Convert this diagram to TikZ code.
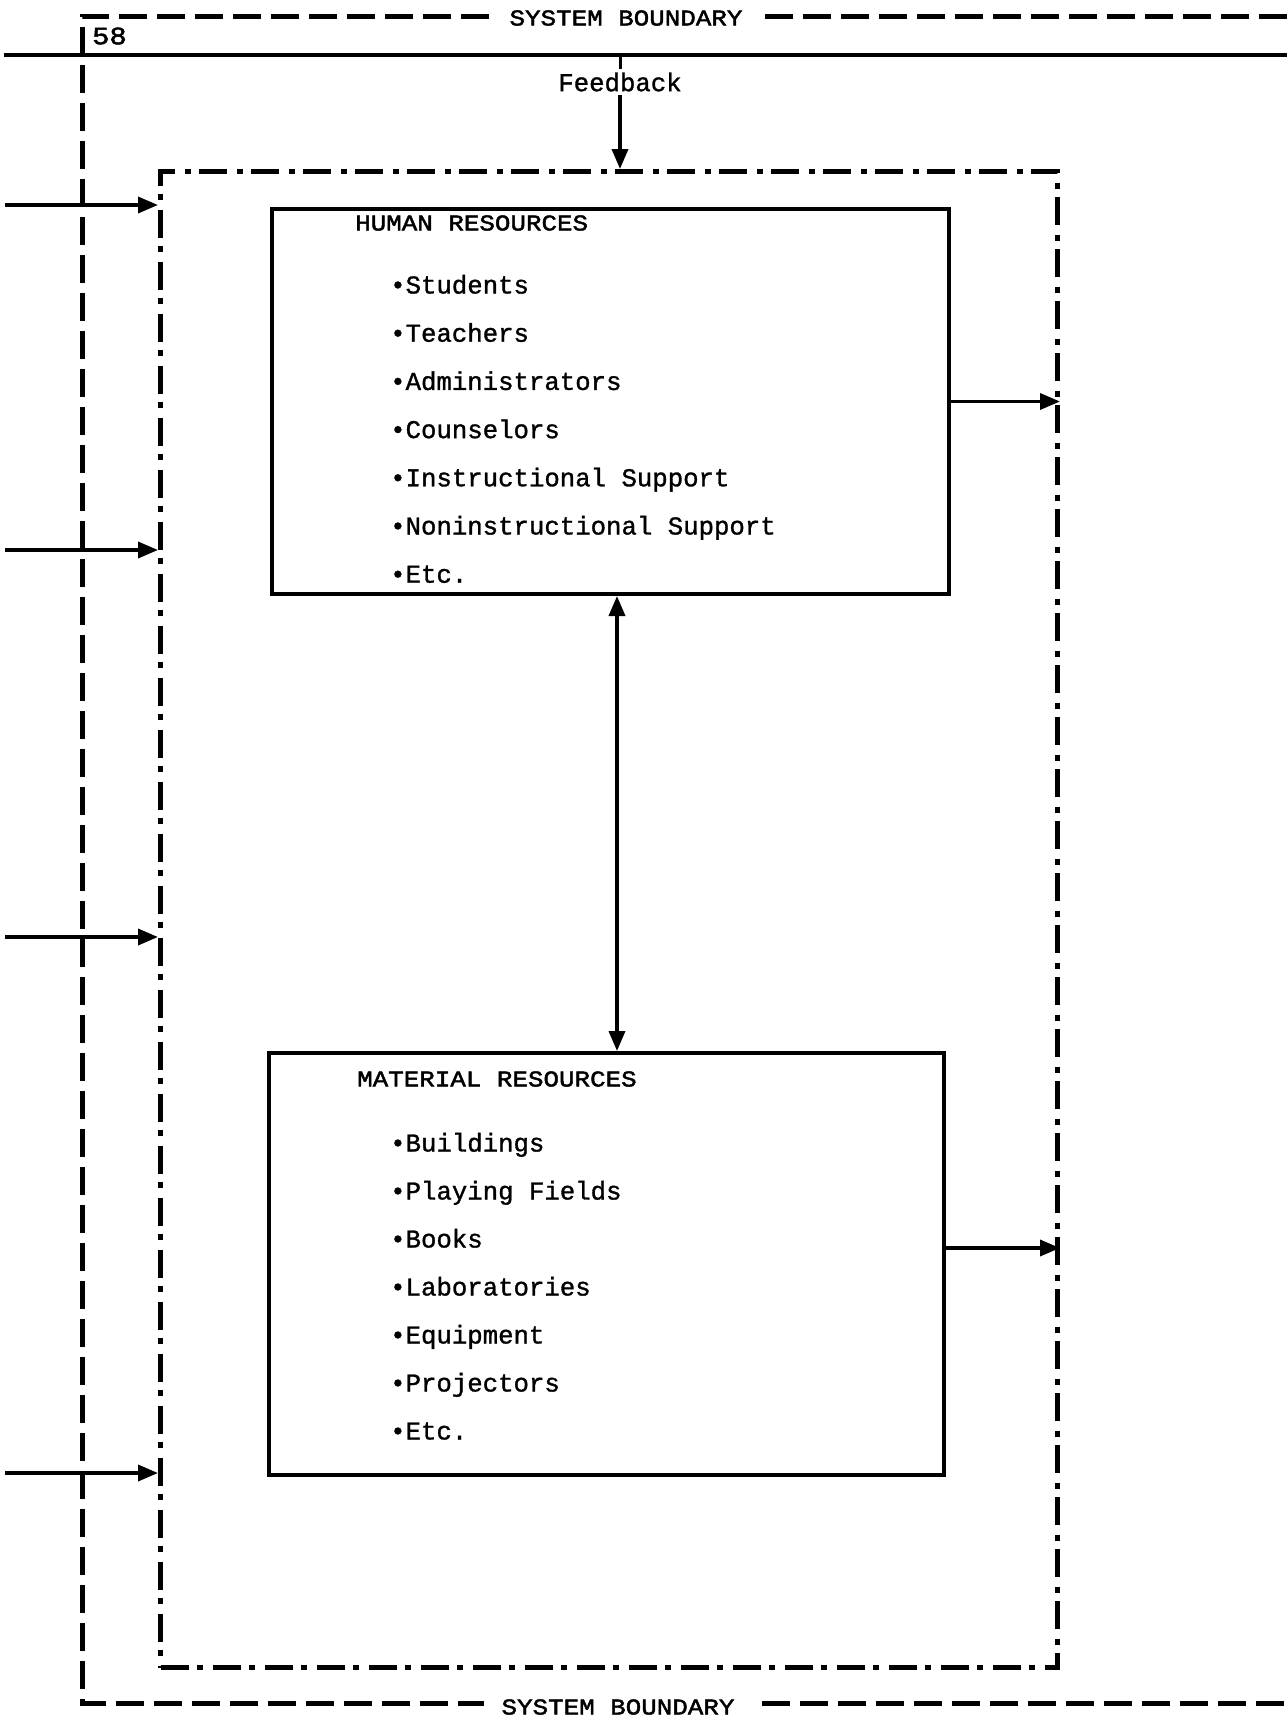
\documentclass[tikz,border=0pt]{standalone}
\usepackage{fontspec}
\setmainfont{Liberation Mono}[FakeBold=1.2]
\newfontfamily\headfont[FakeStretch=1.15, FakeBold=2]{Liberation Mono}
\usetikzlibrary{arrows.meta,positioning}

\begin{document}
\begin{tikzpicture}[x=1pt,y=-1pt,
    bound/.style={line width=5pt, dash pattern=on 28pt off 10pt},
    sysbox/.style={draw, line width=5pt, dash pattern=on 28pt off 8pt on 6pt off 10pt,
        anchor=north west, inner sep=0pt},
    resbox/.style={draw, line width=4pt, anchor=north west, inner sep=0pt},
    head/.style={font=\headfont\fontsize{22.5}{24}\selectfont, inner sep=0pt},
    item/.style={font=\fontsize{25.7}{28}\selectfont, anchor=base west, inner sep=0pt},
    flow/.style={line width=3.5pt, -{Triangle[length=20pt,width=16pt]}}]
    \useasboundingbox (0,0) rectangle (1287,1722);

    % system boundary and page rule
    \draw[bound] (1287,16) -- (82,16) -- (82,1703) -- (1287,1703);
    \node[head, fill=white, inner xsep=18pt] (sbtop) at (626,18) {SYSTEM BOUNDARY};
    \node[head, fill=white, inner xsep=18pt] (sbbot) at (618,1707) {SYSTEM BOUNDARY};
    \node[head, anchor=west, font=\headfont\fontsize{25}{26}\selectfont] (page) at (92,36) {58};
    \coordinate (rule) at (4,55);
    \draw[line width=4pt] (rule) -- (1287,55);

    % boxes
    \node[sysbox, minimum width=897pt, minimum height=1496pt] (system) at (158,169) {};
    \node[resbox, minimum width=677pt, minimum height=385pt] (human) at (270,207) {};
    \node[resbox, minimum width=675pt, minimum height=422pt] (material) at (267,1051) {};

    \node[head, anchor=west] (hrhead) at (355,223) {HUMAN RESOURCES};
    \foreach \t [count=\i] in {Students,Teachers,Administrators,Counselors,
        Instructional Support,Noninstructional Support,Etc.}
        \node[item] (hr\i) at (390,{293.5+48.2*(\i-1)}) {•\t};

    \node[head, anchor=west] (mrhead) at (357,1079) {MATERIAL RESOURCES};
    \foreach \t [count=\i] in {Buildings,Playing Fields,Books,Laboratories,
        Equipment,Projectors,Etc.}
        \node[item] (mr\i) at (390,{1151.5+48*(\i-1)}) {•\t};

    % feedback
    \node[font=\fontsize{25.7}{28}\selectfont, inner sep=3pt] (fb) at (620,82) {Feedback};
    \draw[line width=3pt] (fb.north |- rule) -- (fb.north);
    \draw[flow] (fb.south) -- (fb.south |- system.north);

    % inputs
    \foreach \y [count=\i] in {205,550,937,1473} {
        \coordinate (in\i) at (5,\y);
        \draw[flow] (in\i) -- (in\i -| system.west);
    }

    % outputs and link
    \draw[flow] (human.east) -- (human.east -| system.east);
    \draw[flow] ([yshift=16pt]material.east) -- ([yshift=16pt]material.east -| system.east);
    \coordinate (link) at (617,0);
    \draw[flow, {Triangle[length=20pt,width=16pt]}-{Triangle[length=20pt,width=16pt]}]
        (link |- human.south) -- (link |- material.north);
\end{tikzpicture}
\end{document}
